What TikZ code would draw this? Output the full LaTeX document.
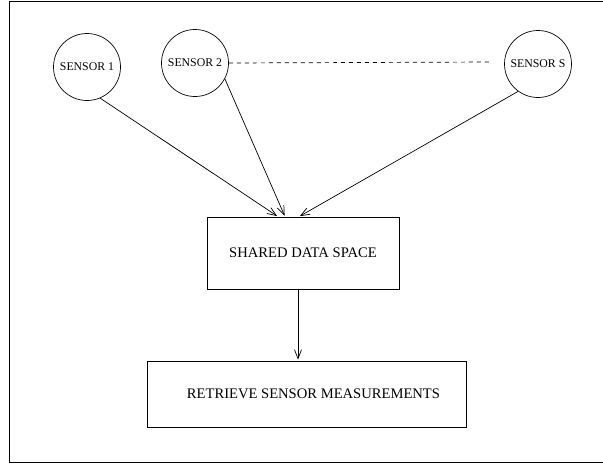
\documentclass[tikz,border=0pt]{standalone}
\usepackage{fontspec}
\setmainfont{Liberation Serif}
\usetikzlibrary{arrows.meta}

\begin{document}
\begin{tikzpicture}[
    x=1pt, y=-1pt,
    line width=0.7pt,
    sensor/.style={circle, draw=black, minimum size=67pt, inner sep=0pt,
        font=\fontsize{11.8}{12}\selectfont},
    block/.style={rectangle, draw=black, inner sep=0pt,
        font=\fontsize{14.6}{16}\selectfont},
    post/.style={-{Straight Barb[length=9pt,width=7pt]}, shorten >=1pt},
    link/.style={dash pattern=on 4pt off 4pt}
]

\useasboundingbox (0,0) rectangle (603,464);
\draw (603,1) -- (9,1) -- (9,462) -- (603,462);

\node[sensor] (s1) at (87,67) {SENSOR 1};
\node[sensor] (s2) at (195,63) {SENSOR 2};
\node[sensor] (sS) at (538,64) {SENSOR S};

\node[block, minimum width=192pt, minimum height=72pt] (shared) at (303,253) {SHARED DATA SPACE};
\node[block, minimum width=319pt, minimum height=66pt] (retrieve) at (306.5,394) {\hspace{14pt}RETRIEVE SENSOR MEASUREMENTS};

\coordinate (dashend) at (490,62);
\draw[link] (s2.east) -- (dashend);

\draw[post] (s1.-67) -- ([xshift=-25pt]shared.north);
\draw[post] (s2.-28) -- ([xshift=-18pt]shared.north);
\draw[post] (sS.-126) -- ([xshift=-4pt]shared.north);

\draw[post] ([xshift=-5pt]shared.south) -- ([xshift=-5pt]shared.south |- retrieve.north);

%
\end{tikzpicture}
\end{document}
